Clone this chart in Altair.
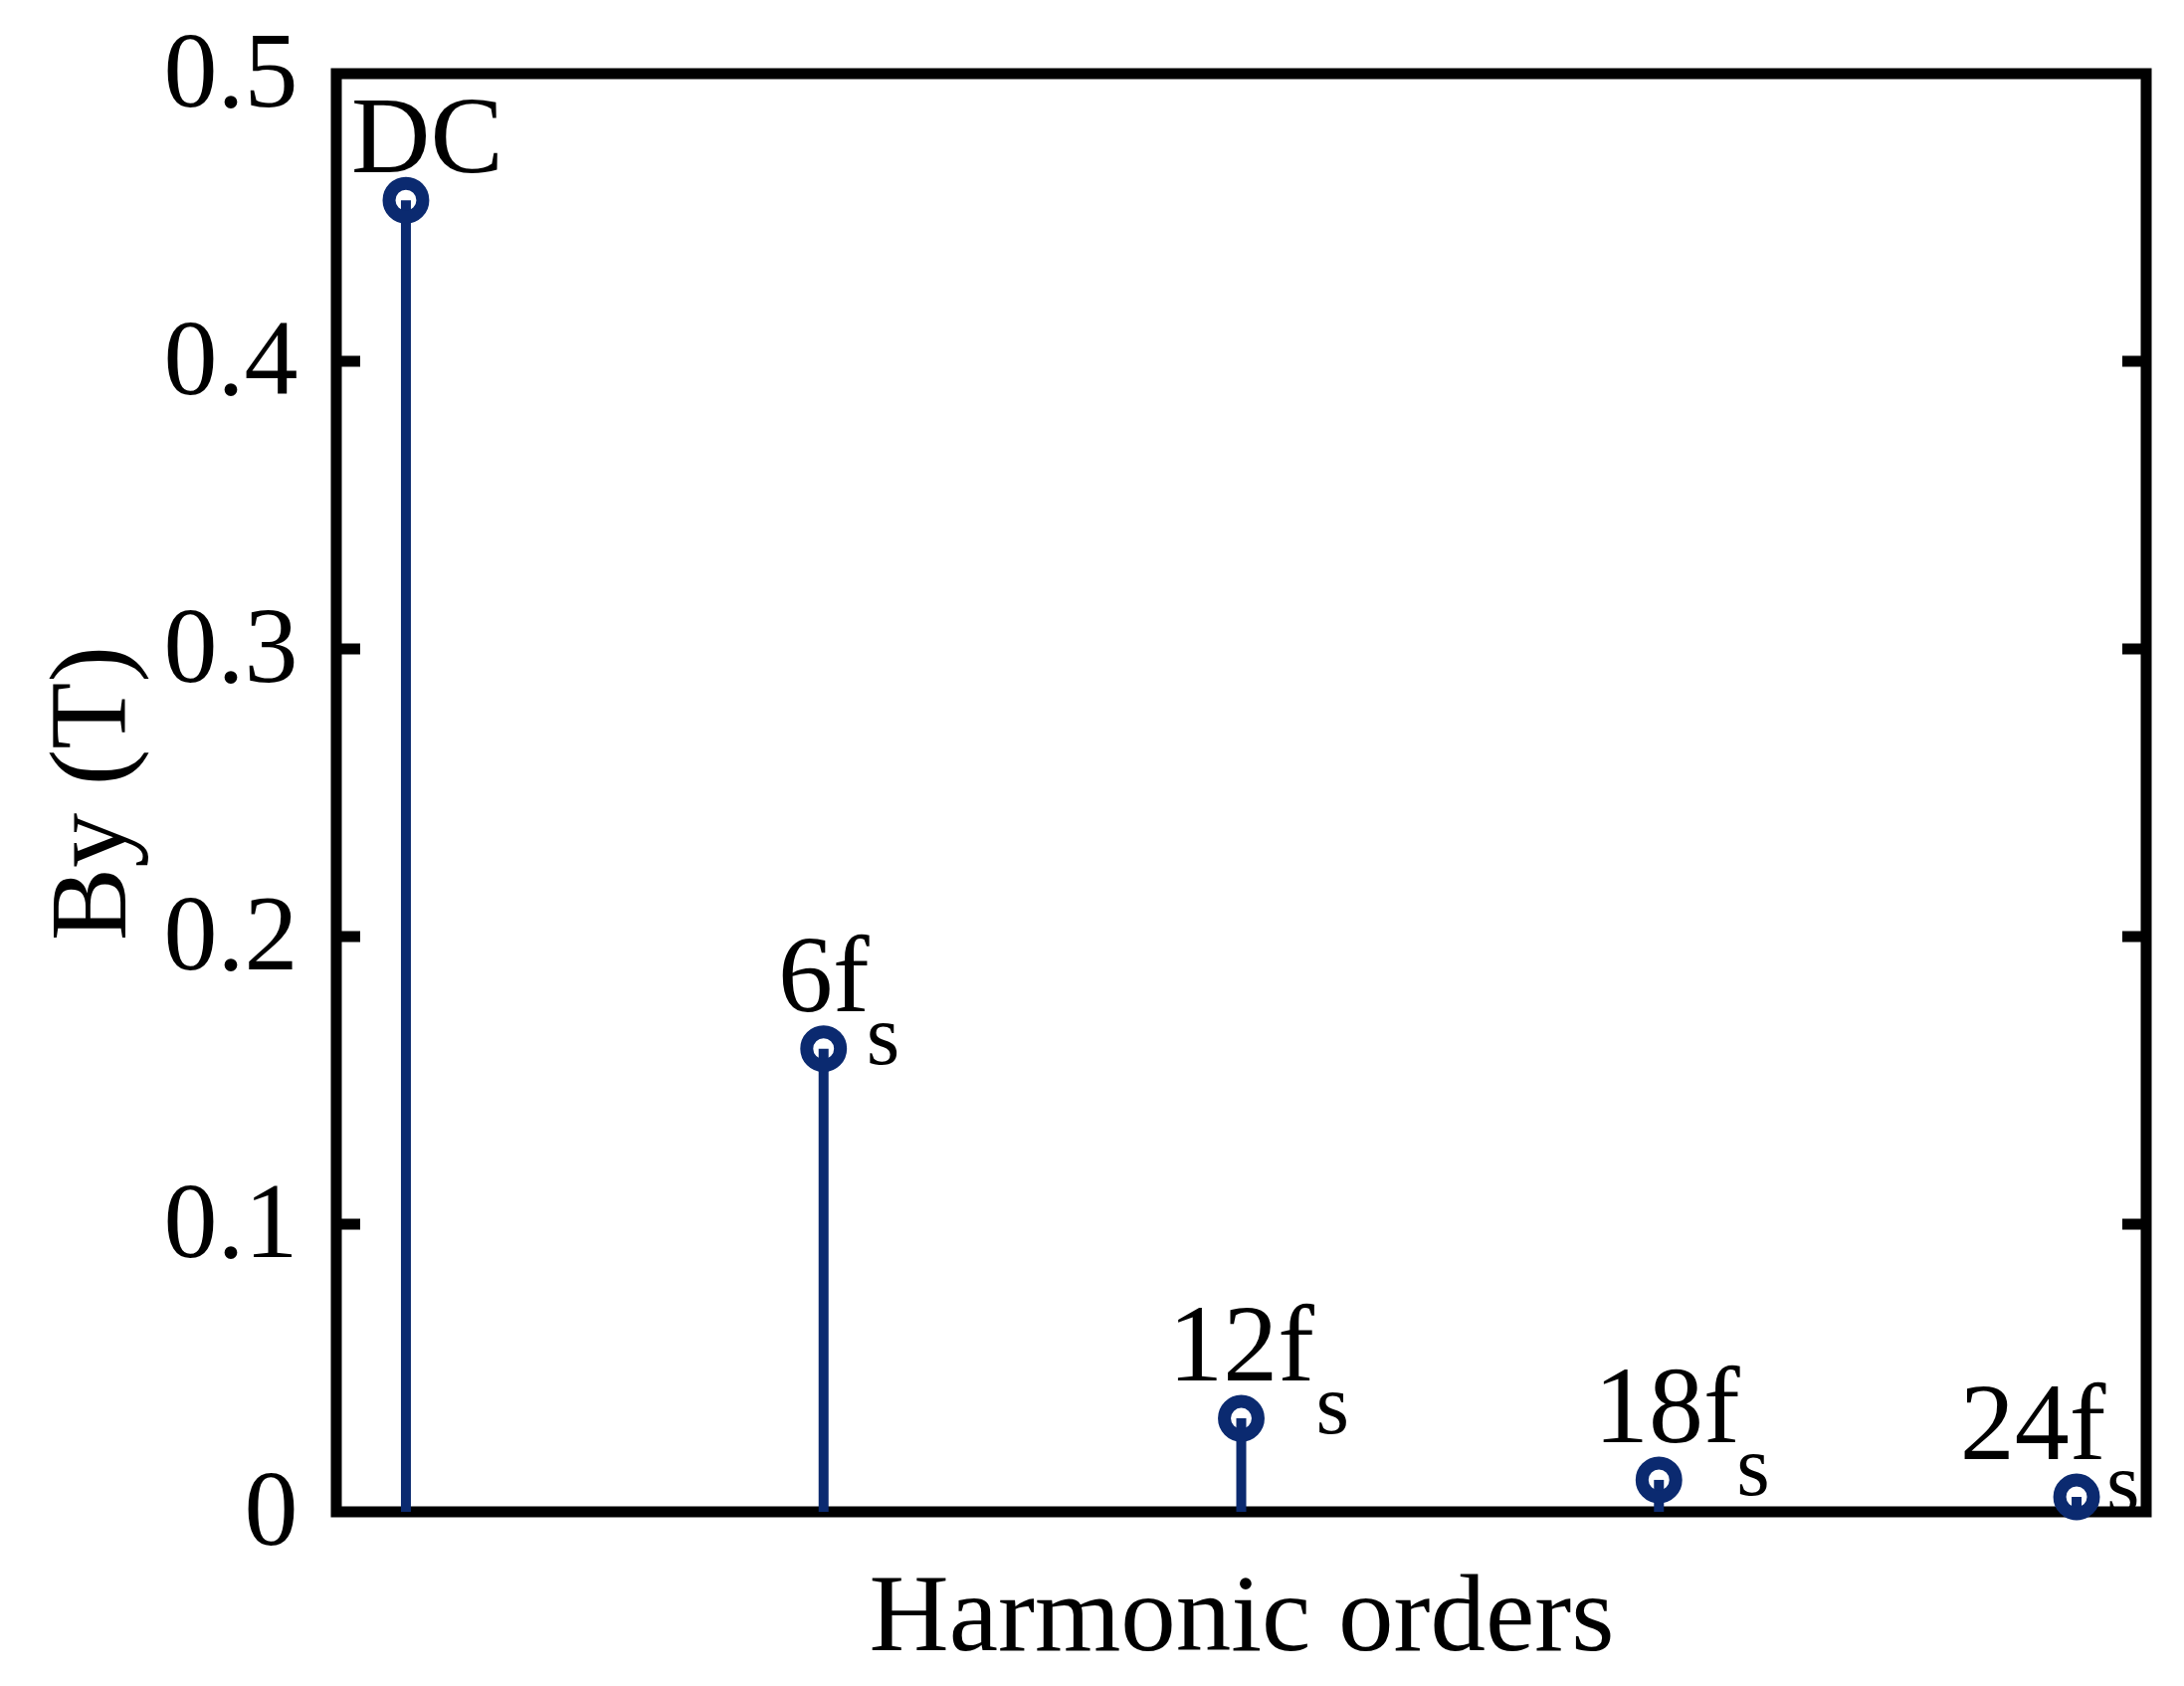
import altair as alt
import pandas as pd

# ---- data ----
orders = [0, 6, 12, 18, 24]
by_values = [0.456, 0.161, 0.0325, 0.0111, 0.0052]
main_labels = ["DC", "6f", "12f", "18f", "24f"]
sub_labels = ["", "s", "s", "s", "s"]
y_axis_values = [0, 0.1, 0.2, 0.3, 0.4, 0.5]
inner_tick_values = [0.1, 0.2, 0.3, 0.4]

df = pd.DataFrame({"order": orders, "by": by_values,
                   "main": main_labels, "sub": sub_labels})
ticks_df = pd.DataFrame({"by": inner_tick_values})

NAVY = "#0b2a70"
FONT = "Liberation Serif"
W, H = 1819, 1445

x_enc = alt.X(
    "order:Q",
    scale=alt.Scale(domain=[-1, 25], nice=False, zero=False),
    axis=alt.Axis(title="Harmonic orders", labels=False, ticks=False,
                  domain=False, grid=False, titleFont=FONT,
                  titleFontSize=111, titleFontWeight="normal",
                  titleColor="black", titlePadding=50),
)
y_enc = alt.Y(
    "by:Q",
    scale=alt.Scale(domain=[0, 0.5], nice=False, zero=True),
    axis=alt.Axis(title="By (T)", values=y_axis_values, format=".1~f",
                  grid=False, ticks=False, domain=False,
                  labelFont=FONT, labelFontSize=108, labelColor="black",
                  labelPadding=39, titleFont=FONT, titleFontSize=110,
                  titleFontWeight="normal", titleColor="black",
                  titlePadding=16),
)

base = alt.Chart(df)

stems = base.mark_rule(color=NAVY, strokeWidth=10).encode(
    x=x_enc, y=y_enc, y2=alt.datum(0)
)

markers = base.mark_point(shape="circle", filled=False, size=1150,
                          strokeWidth=13, color=NAVY, opacity=1).encode(
    x="order:Q", y="by:Q"
)

left_ticks = alt.Chart(ticks_df).mark_rule(color="black", strokeWidth=11).encode(
    y="by:Q", x=alt.value(0), x2=alt.value(24)
)
right_ticks = alt.Chart(ticks_df).mark_rule(color="black", strokeWidth=11).encode(
    y="by:Q", x=alt.value(W - 24), x2=alt.value(W)
)

# label placement (offsets in pixels from each marker)
main_style = {
    "DC": dict(align="left", dx=-55, dy=-28),
    "6f": dict(align="center", dx=0, dy=-38),
    "12f": dict(align="center", dx=0, dy=-38),
    "18f": dict(align="center", dx=8, dy=-38),
    "24f": dict(align="center", dx=-44, dy=-38),
}
sub_dx = {"6f": 43, "12f": 75, "18f": 78, "24f": 30}

layers = [stems, left_ticks, right_ticks, markers]
for lab, st in main_style.items():
    layers.append(
        base.transform_filter(alt.datum.main == lab).mark_text(
            font=FONT, fontSize=110, color="black", baseline="alphabetic",
            **st
        ).encode(x="order:Q", y="by:Q", text="main:N")
    )
for lab, dx in sub_dx.items():
    layers.append(
        base.transform_filter(alt.datum.main == lab).mark_text(
            font=FONT, fontSize=86, color="black", baseline="alphabetic",
            align="left", dx=dx, dy=15
        ).encode(x="order:Q", y="by:Q", text="sub:N")
    )

chart = alt.layer(*layers).properties(
    width=W, height=H,
    padding={"left": 330, "top": 66, "right": 30, "bottom": 170},
    autosize=alt.AutoSizeParams(type="none"),
    background="white",
).configure_view(stroke="black", strokeWidth=11)

chart.save("out.html", embed_options={"renderer": "svg", "actions": False})
